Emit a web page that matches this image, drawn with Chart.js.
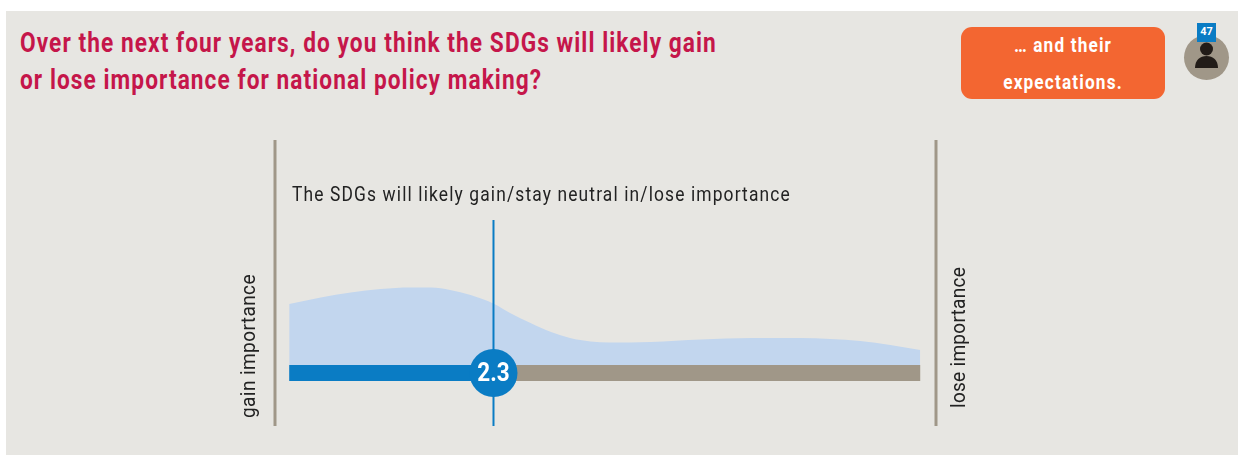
<!DOCTYPE html>
<html>
<head>
<meta charset="UTF-8">
<title>SDGs importance</title>
<script src="https://cdn.jsdelivr.net/npm/chart.js@4"></script>
<style>
html, body { margin: 0; padding: 0; width: 1238px; height: 455px; overflow: hidden; background: #fff; font-family: Roboto, sans-serif; }
.panel { position: absolute; left: 6px; top: 11px; width: 1232px; height: 444px; background: #e7e6e2; }
canvas { position: absolute; left: 0; top: 0; }
.title { position: absolute; left: 20px; color: #c5164a; font-weight: 700; font-size: 27px; line-height: 30px; white-space: nowrap; letter-spacing: 1.26px; transform: scaleX(.84); transform-origin: left center; }
.box { position: absolute; left: 961px; top: 27px; width: 204px; height: 72px; background: #f36631; border-radius: 11px; }
.box div { position: absolute; left: 0; width: 100%; text-align: center; color: #fff; font-weight: 700; font-size: 20px; line-height: 24px; letter-spacing: 1.35px; transform: scaleX(.86); }
.avatar { position: absolute; left: 1184px; top: 35px; width: 45px; height: 45px; border-radius: 50%; background: #a09788; }
.badge { position: absolute; left: 1197px; top: 23px; width: 19px; height: 19px; background: #0a7cc4; color: #fff; font-size: 11px; font-weight: 700; line-height: 18px; text-align: center; }
svg { position: absolute; left: 1184px; top: 35px; }
</style>
</head>
<body>
<div class="panel"></div>
<div class="title" style="top:28px">Over the next four years, do you think the SDGs will likely gain</div>
<div class="title" style="top:65px">or lose importance for national policy making?</div>
<div class="box">
  <div style="top:6px">… and their</div>
  <div style="top:43px">expectations.</div>
</div>
<div class="avatar"></div>
<svg width="45" height="45" viewBox="0 0 45 45">
  <circle cx="22.5" cy="14" r="6.5" fill="#221c18"/>
  <path d="M11 33 C11 25 16 21 22.5 21 C29 21 34 25 34 33 Z" fill="#221c18"/>
</svg>
<div class="badge">47</div>
<canvas id="chart" width="1238" height="455"></canvas>
<script>
// answer scale runs from 1 (gain) to 5 (lose)
var answerPos = [1.0, 1.2, 1.39, 1.58, 1.77, 1.9, 2.02, 2.15, 2.3, 2.4, 2.53, 2.66, 2.78, 2.91, 3.03, 3.29, 3.61, 3.93, 4.24, 4.43, 4.62, 4.81, 5.0];
var answerShare = [61, 67.5, 72.5, 76, 77.5, 77.5, 75, 70, 61, 52, 42, 33, 27, 23.5, 22.5, 23, 25.5, 27, 27, 26, 24, 20, 15];
var meanValue = 2.295;
var scaleMin = 1;
var scaleMax = 5;
var barLevel = -8;
var leftLabel = 'gain importance';
var rightLabel = 'lose importance';
var chartNote = 'The SDGs will likely gain/stay neutral in/lose importance';

var BLUE = '#0a7cc4';
var STONE = '#a09788';

function points(xs, ys) {
    return xs.map(function(x, i) { return {x: x, y: ys[i]}; });
}

// draws squeezed text so Roboto looks like the condensed face
function squeezed(ctx, text, x, y, font, squeeze, spacing, color, align, angle) {
    ctx.save();
    ctx.translate(x, y);
    if (angle) ctx.rotate(angle);
    ctx.scale(squeeze, 1);
    ctx.font = font;
    ctx.letterSpacing = spacing;
    ctx.fillStyle = color;
    ctx.textAlign = align;
    ctx.textBaseline = 'alphabetic';
    ctx.fillText(text, 0, 0);
    ctx.restore();
}

var labelsPlugin = {
    id: 'labels',
    afterDatasetsDraw: function(chart) {
        var ctx = chart.ctx;
        var sx = chart.scales.x;
        var sy = chart.scales.y;
        squeezed(ctx, meanValue.toFixed(1), sx.getPixelForValue(meanValue), sy.getPixelForValue(barLevel) + 8, '700 25px Roboto', 0.9, '0px', '#fff', 'center');
        squeezed(ctx, chartNote, 292, 201, '400 20px Roboto', 0.87, '1.3px', '#222', 'left');
        squeezed(ctx, leftLabel, 255, 418, '400 20px Roboto', 0.95, '0.45px', '#222', 'left', -Math.PI / 2);
        squeezed(ctx, rightLabel, 965, 408, '400 20px Roboto', 0.95, '0.3px', '#222', 'left', -Math.PI / 2);
    }
};

new Chart(document.getElementById('chart'), {
    type: 'line',
    plugins: [labelsPlugin],
    data: {
        datasets: [
            {
                data: points(answerPos, answerShare),
                borderWidth: 0,
                backgroundColor: '#c2d6ee',
                fill: 'origin',
                pointRadius: 0,
                cubicInterpolationMode: 'monotone',
                order: 6
            },
            {
                data: points([scaleMin - 0.09, scaleMin - 0.09], [-61, 225]),
                borderColor: STONE,
                borderWidth: 3,
                pointRadius: 0,
                order: 5
            },
            {
                data: points([scaleMax + 0.1, scaleMax + 0.1], [-61, 225]),
                borderColor: STONE,
                borderWidth: 3,
                pointRadius: 0,
                order: 5
            },
            {
                data: points([scaleMin, meanValue], [barLevel, barLevel]),
                borderColor: BLUE,
                borderWidth: 16,
                pointRadius: 0,
                order: 4
            },
            {
                data: points([meanValue, scaleMax], [barLevel, barLevel]),
                borderColor: STONE,
                borderWidth: 16,
                pointRadius: 0,
                order: 4
            },
            {
                data: points([meanValue, meanValue], [-61, 145]),
                borderColor: BLUE,
                borderWidth: 2,
                pointRadius: 0,
                order: 3
            },
            {
                data: points([meanValue], [barLevel]),
                backgroundColor: BLUE,
                borderWidth: 0,
                pointRadius: 24,
                showLine: false,
                order: 2
            }
        ]
    },
    options: {
        responsive: false,
        animation: false,
        clip: false,
        layout: { padding: { left: 275, right: 302, top: 140, bottom: 29 } },
        plugins: { legend: { display: false }, title: { display: false }, tooltip: { enabled: false } },
        scales: {
            x: { type: 'linear', min: 0.91, max: 5.1, display: false },
            y: { type: 'linear', min: -61, max: 225, display: false }
        }
    }
});
</script>
</body>
</html>
